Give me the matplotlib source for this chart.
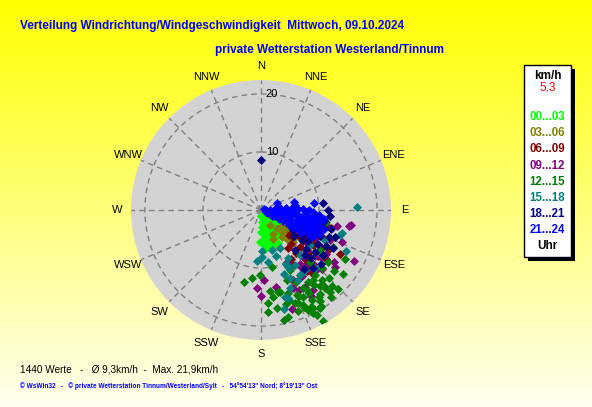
import numpy as np
import matplotlib.pyplot as plt
from matplotlib.patches import Rectangle

# wind direction (deg) and speed (km/h), one pair of lists per 3-hour block
dir_00 = [178, 170, 160, 150, 140, 128, 120, 176, 168, 158, 148, 138, 128, 122,
          177, 171, 163, 154, 145, 136, 128, 176, 169, 161, 152, 143, 134,
          177, 172, 165, 157, 149, 140, 175, 168, 160, 153, 174, 164, 180, 181]
spd_00 = [1.0, 1.2, 1.0, 1.3, 1.2, 1.5, 2.0, 2.0, 2.2, 2.0, 2.3, 2.5, 2.6, 2.9,
          3.0, 3.3, 3.1, 3.2, 3.4, 3.6, 3.8, 4.2, 4.0, 4.3, 4.1, 4.4, 4.6,
          5.1, 5.4, 5.0, 5.3, 5.2, 5.0, 6.0, 6.2, 6.1, 6.4, 6.8, 6.6, 3.8, 5.6]

dir_03 = [150, 139, 131, 154, 137, 128, 142, 125, 138, 120, 130, 118, 135, 158]
spd_03 = [3.0, 4.2, 4.5, 4.6, 5.2, 5.6, 5.9, 6.8, 6.8, 5.0, 7.4, 6.2, 7.9, 5.4]

dir_06 = [98, 104, 119, 115, 122, 130, 138, 145, 112, 119, 127, 134, 141, 148,
          110, 117, 124, 131, 138, 145, 115, 122, 129, 136, 143, 120, 127, 134, 141,
          125, 132, 108, 150, 140, 113]
spd_06 = [10.1, 12.5, 15.5, 7.0, 7.5, 7.2, 7.8, 8.0, 8.5, 8.8, 9.0, 9.3, 9.6, 9.9,
          10.2, 10.5, 10.8, 11.0, 11.3, 11.6, 12.0, 12.3, 12.6, 12.9, 13.2,
          13.6, 14.0, 14.3, 14.0, 8.2, 6.5, 9.4, 11.0, 12.2, 11.3]

dir_09 = [102, 99.5, 104, 111.6, 118.7, 127.6, 183, 177.5, 180, 162.6,
          149.8, 150.3, 169, 157.7, 113.5, 125.5, 150, 155.4, 154.6, 147,
          153.4, 140, 138.5, 128, 100.5, 120, 126, 132, 138, 144,
          122, 130, 136, 142, 148, 116, 124, 134, 145, 110]
spd_09 = [13.4, 15.7, 11.7, 15.0, 18.3, 16.1, 13.5, 12.1, 14.8, 17.9,
          17.2, 15.3, 13.5, 14.5, 13.0, 15.4, 16.5, 13.3, 15.3, 16.4,
          10.0, 12.4, 14.0, 13.1, 15.4, 9.5, 10.0, 10.5, 11.0, 11.5,
          11.8, 12.2, 12.6, 13.0, 13.4, 10.6, 13.6, 14.6, 12.0, 9.0]

dir_12 = [193, 187.5, 176, 176, 168, 166, 151, 153, 149, 141, 136, 128, 120, 117,
          100.5, 156, 163, 181, 169, 156, 152, 141, 172, 168, 157, 152, 147, 140,
          134, 128, 149, 137, 154, 124, 154, 150.5,
          167, 170.7, 154.2, 152.7, 173.7, 159.6, 138.9, 137, 129.9,
          145, 150, 158, 162, 140, 146, 155, 160, 135, 143, 148, 165,
          150, 156, 145, 140, 160, 152, 147, 142]
spd_12 = [12.8, 11.8, 16.1, 17.6, 19.4, 19.0, 21.9, 19.9, 19.7, 19.3, 19.0, 18.0,
          16.8, 14.0, 11.4, 18.3, 16.3, 11.2, 10.0, 17.9, 20.5, 17.4, 15.1, 14.4,
          15.9, 15.3, 14.8, 14.6, 14.5, 14.6, 13.1, 12.3, 11.5, 12.3, 13.8, 17.8,
          14.5, 17.1, 16.7, 18.8, 14.1, 12.9, 16.0, 17.9, 16.4,
          15.8, 16.6, 17.2, 15.0, 17.0, 18.0, 19.0, 18.5, 16.5, 15.0, 19.5, 16.8,
          16.0, 16.2, 17.6, 18.4, 17.0, 19.2, 18.6, 16.6]

dir_15 = [178.6, 178.8, 184.5, 164.6, 166.9, 164.6, 115.8, 105.9, 88,
          150.6, 154.2, 156.9, 159.6, 162.9, 148.3, 143.7, 137, 139, 153.4,
          162, 172.3, 125.5, 115, 107.6, 126.4, 152.1, 155, 148, 160]
spd_15 = [7.1, 8.1, 8.8, 7.2, 17.5, 15.6, 16.3, 14.5, 16.5,
          9.5, 11.1, 12.7, 14.3, 15.9, 11.1, 12.8, 13.7, 10.3, 7.3,
          8.3, 9.0, 10.4, 12.2, 14.3, 13.1, 13.7, 10.2, 13.0, 11.8]

dir_18 = [0, 84, 100, 108, 115, 122, 128, 98, 105, 112, 119, 126,
          96, 103, 110, 117, 124, 131, 100, 107, 114, 121, 128,
          105, 112, 119, 126, 110, 118, 134, 140, 136, 95, 90, 138, 132, 144]
spd_18 = [8.6, 10.8, 6.5, 6.8, 7.0, 6.6, 7.2, 8.0, 8.3, 8.1, 8.5, 8.8,
          9.6, 9.8, 9.5, 10.0, 9.7, 10.2, 11.0, 11.3, 11.1, 11.5, 11.8,
          12.4, 12.6, 12.9, 13.1, 13.6, 14.0, 12.0, 9.0, 10.8, 12.0, 11.5, 13.5, 13.8, 12.5]

dir_21 = [80, 95, 110, 88, 100, 112, 113, 86, 94, 103, 113, 116,
          85, 92, 99, 107, 115, 86, 93, 101, 109, 117, 87, 94, 102, 110, 118,
          88, 96, 104, 112, 119, 89, 97, 105, 113, 90, 98, 106, 114,
          92, 100, 108, 116, 95, 103, 111, 98, 107, 82, 68, 83, 76,
          100, 110, 118, 96, 104, 112, 120, 99, 107, 115, 102, 110, 118, 105, 113]
spd_21 = [0.6, 0.8, 0.9, 1.5, 1.6, 1.7, 1.2, 2.4, 2.5, 2.6, 2.7, 2.2,
          3.3, 3.5, 3.4, 3.6, 3.5, 4.3, 4.5, 4.4, 4.6, 4.2, 5.3, 5.5, 5.2, 5.6, 5.4,
          6.3, 6.2, 6.5, 6.4, 6.1, 7.2, 7.4, 7.1, 7.5, 8.2, 8.0, 8.4, 8.3,
          9.0, 9.3, 9.1, 9.4, 10.1, 10.3, 10.0, 11.0, 11.2, 6.0, 3.0, 9.2, 5.8,
          6.8, 6.9, 7.0, 7.8, 7.7, 7.9, 8.0, 8.7, 8.8, 8.9, 9.6, 9.8, 10.0, 10.6, 10.8]

blocks = ['00...03', '03...06', '06...09', '09...12',
          '12...15', '15...18', '18...21', '21...24']
dirs = [dir_00, dir_03, dir_06, dir_09, dir_12, dir_15, dir_18, dir_21]
spds = [spd_00, spd_03, spd_06, spd_09, spd_12, spd_15, spd_18, spd_21]
colors = ['#00ff00', '#808000', '#800000', '#800080',
          '#008000', '#008080', '#000080', '#0000ff']

compass = ['N', 'NNE', 'NE', 'ENE', 'E', 'ESE', 'SE', 'SSE',
           'S', 'SSW', 'SW', 'WSW', 'W', 'WNW', 'NW', 'NNW']
rings = [10, 20]
calm = '5,3'
n_values = 1440
mean_speed = '9,3'
max_speed = '21,9'

RMAX = 22.4
W, H = 592, 407
font = ['Liberation Sans', 'DejaVu Sans']

fig = plt.figure(figsize=(W / 100, H / 100), dpi=100)

# yellow gradient background
bg = fig.add_axes([0, 0, 1, 1], zorder=-10)
grad = np.linspace(0, 0.94, 256)
img = np.ones((256, 1, 3))
img[:, 0, 2] = grad
bg.imshow(img, aspect='auto', extent=[0, 1, 0, 1], origin='upper')
bg.axis('off')

# polar plot, centre at (261, 210) px, radius 130 px
cx, cy, rad = 261, 210, 130
ax = fig.add_axes([(cx - rad) / W, (H - cy - rad) / H, 2 * rad / W, 2 * rad / H],
                  projection='polar')
ax.set_theta_zero_location('N')
ax.set_theta_direction(-1)
ax.set_facecolor('#d3d3d3')
ax.spines['polar'].set_visible(False)
ax.set_xticks([])
ax.set_yticks([])
ax.grid(False)
ax.set_ylim(0, RMAX)

dash = (0, (4, 3))
for k in range(16):
    th = np.radians(k * 22.5)
    ax.plot([th, th], [0, RMAX], color='#808080', lw=1, ls=dash, zorder=1)
circ = np.linspace(0, 2 * np.pi, 400)
for r in rings:
    ax.plot(circ, np.full_like(circ, r), color='#808080', lw=1, ls=dash, zorder=1)
    ax.annotate(str(r), (0, r), xytext=(3.5, 0), textcoords='offset points',
                ha='left', va='center', fontsize=8, family=font)

for i, lab in enumerate(compass):
    ax.text(np.radians(i * 22.5), RMAX * 1.105, lab, ha='center', va='center',
            fontsize=8, family=font, clip_on=False)

for d, s, c in zip(dirs, spds, colors):
    ax.plot(np.radians(d), s, 'D', ms=4, mfc=c, mec=c, mew=0.5, ls='none', zorder=3)

# titles
fig.text(20 / W, 1 - 26 / H,
         'Verteilung Windrichtung/Windgeschwindigkeit  Mittwoch, 09.10.2024',
         color='#0000ff', fontsize=8.5, fontweight='bold', family=font,
         ha='left', va='center')
fig.text(215 / W, 1 - 49.5 / H, 'private Wetterstation Westerland/Tinnum',
         color='#0000ff', fontsize=8.5, fontweight='bold', family=font,
         ha='left', va='center')

# legend box with shadow
fig.add_artist(Rectangle((528 / W, 1 - 261 / H), 47 / W, 192 / H,
                         transform=fig.transFigure, facecolor='black', edgecolor='none'))
fig.add_artist(Rectangle((524 / W, 1 - 257 / H), 47 / W, 192 / H,
                         transform=fig.transFigure, facecolor='white',
                         edgecolor='black', lw=1))
lx = 547.5 / W
fig.text(lx, 1 - 75.7 / H, 'km/h', ha='center', va='center', fontsize=8.5,
         fontweight='bold', family=font)
fig.text(lx, 1 - 87 / H, calm, ha='center', va='center', fontsize=8.5,
         color='red', family=font)
for i, (lab, c) in enumerate(zip(blocks, colors)):
    fig.text(lx, 1 - (117.3 + i * 16.1) / H, lab, ha='center', va='center',
             fontsize=8.3, fontweight='bold', color=c, family=font)
fig.text(lx, 1 - 246 / H, 'Uhr', ha='center', va='center', fontsize=8.5,
         fontweight='bold', family=font)

# footer
fig.text(20 / W, 1 - 369 / H,
         f'{n_values} Werte   -   Ø {mean_speed}km/h  -  Max. {max_speed}km/h',
         ha='left', va='center', fontsize=7.2, family=font)
fig.text(20 / W, 1 - 386 / H,
         "© WsWin32   -   © private Wetterstation Tinnum/Westerland/Sylt   -   "
         "54°54'13'' Nord; 8°19'13'' Ost",
         ha='left', va='center', fontsize=4.7, color='#0000ff', family=font,
         fontweight='bold')

fig.savefig('out.png', dpi=100)
